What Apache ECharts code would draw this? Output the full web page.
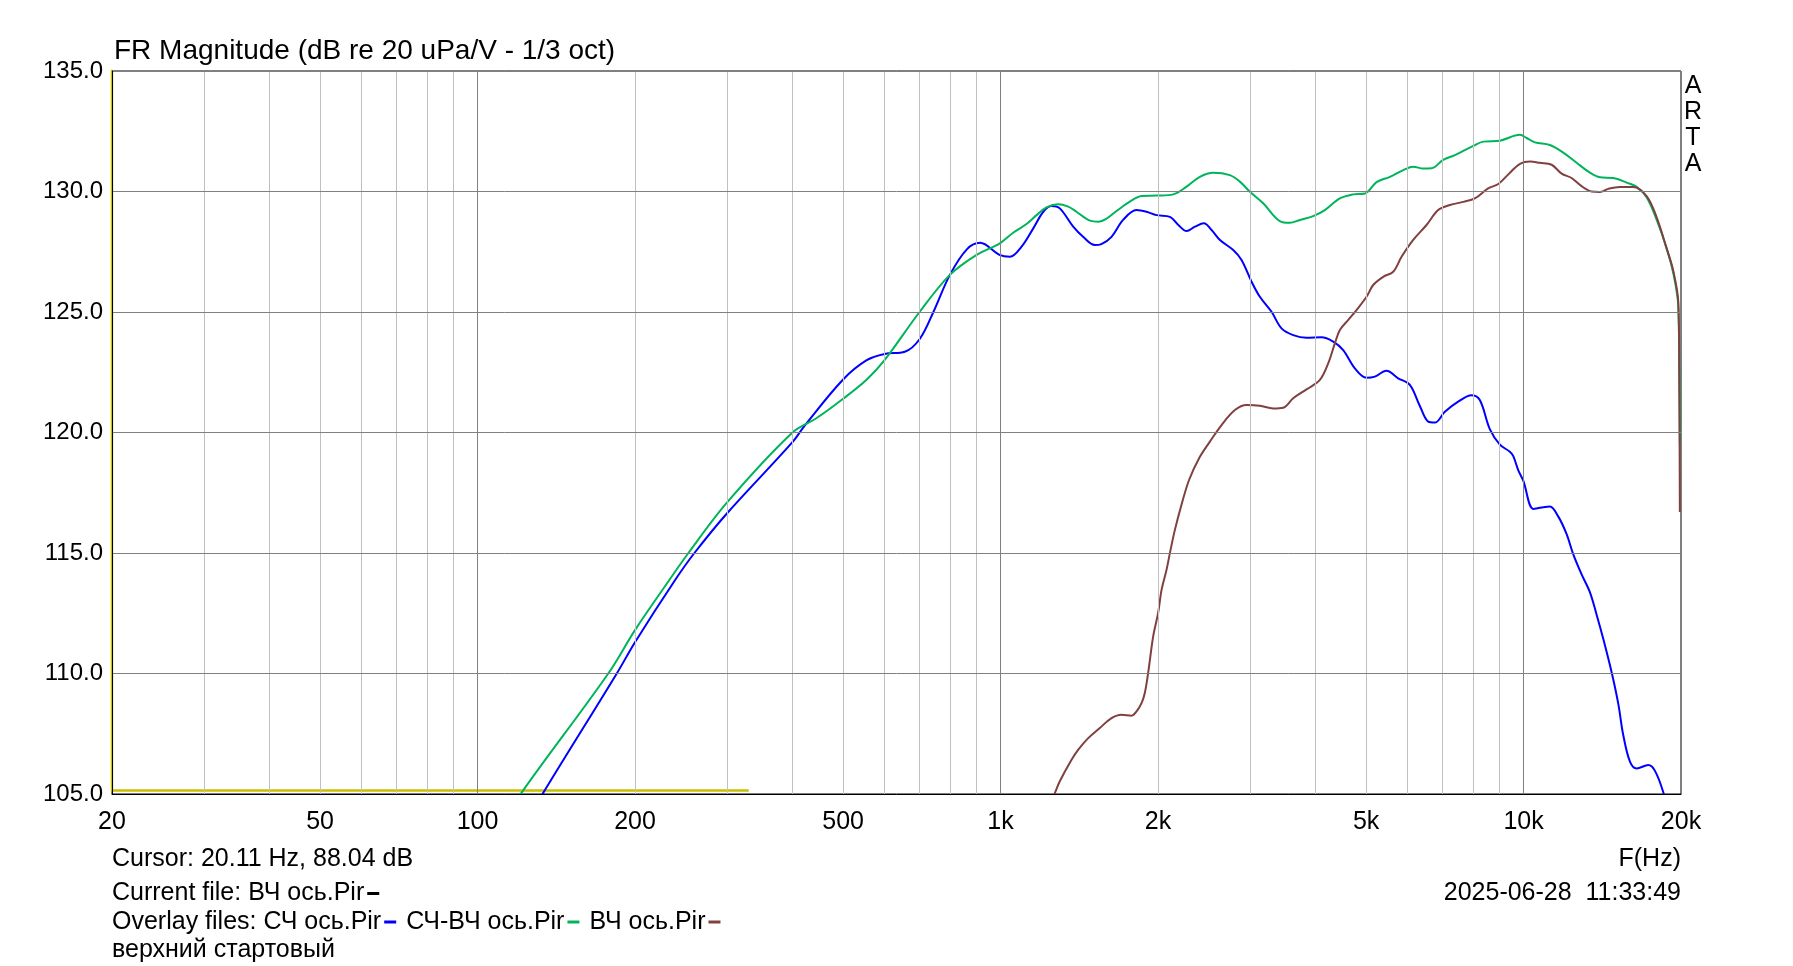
<!DOCTYPE html>
<html>
<head>
<meta charset="utf-8">
<script src="https://cdn.jsdelivr.net/npm/echarts@6/dist/echarts.min.js"></script>
<style>
html,body{margin:0;padding:0;background:#fff;}
#chart{width:1793px;height:966px;}
</style>
</head>
<body>
<div id="chart"></div>
<script>
// ---- data (frequency Hz, level dB) ----
const xTickLabels = [20, 50, 100, 200, 500, 1000, 2000, 5000, 10000, 20000];
const xGridMinor = [30, 40, 50, 60, 70, 80, 90, 200, 300, 400, 500, 600, 700, 800, 900,
  2000, 3000, 4000, 5000, 6000, 7000, 8000, 9000];
const xGridMajor = [100, 1000, 10000];
const yTicks = [105, 110, 115, 120, 125, 130, 135];

// "верхний стартовый" current file (yellow)
const currentFile = [[20, 136], [20, 105.15], [330, 105.15]];

// СЧ ось.Pir (blue)
const midBlue = [[128,104.3],[134,105.1],[184.6,110],[200,111.3],[239,113.9],[259.8,115],[300,116.65],
  [400,119.6],[422.6,120.3],[500,122.2],[554.7,123.0],[600,123.26],[656,123.35],[700,123.87],[744,125.0],
  [800,126.54],[862,127.6],[914,127.87],[995,127.37],[1042,127.29],[1097,127.71],[1155,128.47],[1207,129.16],
  [1252,129.4],[1298,129.3],[1377,128.54],[1438,128.12],[1514,127.78],[1559,127.82],[1630,128.12],[1715,128.82],
  [1819,129.23],[1901,129.16],[1987,129.02],[2108,128.95],[2187,128.61],[2268,128.36],[2353,128.54],[2448,128.68],
  [2532,128.4],[2627,127.99],[2785,127.57],[2889,127.16],[3019,126.26],[3132,125.63],[3297,125.01],[3445,124.32],
  [3627,124.04],[3846,123.93],[4109,123.95],[4325,123.77],[4520,123.42],[4758,122.66],[5009,122.27],[5196,122.32],
  [5469,122.56],[5758,122.25],[6061,121.98],[6334,121.1],[6571,120.45],[6767,120.41],[7071,120.86],[7499,121.28],
  [7951,121.55],[8248,121.35],[8624,120.13],[9009,119.5],[9414,119.2],[9558,119.02],[9767,118.44],[9987,118.0],
  [10440,116.83],[10828,116.89],[11229,116.93],[11647,116.52],[12088,115.78],[12448,114.94],[12912,114.11],
  [13395,113.37],[13794,112.44],[14206,111.43],[14740,110.04],[15175,108.74],[15512,107.44],[15982,106.33],
  [16454,106.06],[17316,106.2],[17833,105.96],[18500,105.07],[18700,104.5]];

// СЧ-ВЧ ось.Pir (green)
const midHighGreen = [[117,104.4],[121.8,105.1],[177.8,110],[200,111.8],[233,113.9],[253,115],[300,117.1],
  [400,120.0],[445,120.6],[500,121.4],[555,122.2],[600,123.0],[700,125.0],[800,126.54],[900,127.37],[997,127.85],
  [1057,128.29],[1121,128.65],[1172,129.02],[1224,129.34],[1289,129.47],[1347,129.37],[1397,129.16],[1482,128.79],
  [1537,128.75],[1595,128.88],[1666,129.19],[1767,129.58],[1860,129.81],[1987,129.83],[2139,129.88],[2268,130.2],
  [2405,130.61],[2550,130.78],[2744,130.68],[2868,130.41],[2997,129.99],[3178,129.51],[3420,128.77],[3574,128.7],
  [3735,128.82],[3961,128.98],[4169,129.23],[4454,129.71],[4723,129.88],[4974,129.92],[5235,130.39],[5551,130.61],
  [5887,130.89],[6152,131.03],[6428,130.95],[6668,130.96],[7019,131.31],[7391,131.51],[7723,131.72],[8014,131.89],
  [8374,132.07],[9013,132.11],[9843,132.35],[10137,132.22],[10515,132.04],[11229,131.93],[11910,131.61],
  [12633,131.19],[13395,130.78],[13997,130.59],[14844,130.56],[15743,130.37],[16454,130.19],[17189,129.76],
  [17967,128.83],[18780,127.63],[19335,126.61],[19765,125.22],[19850,122.44],[19900,119.5]];

// ВЧ ось.Pir (brown)
const highBrown = [[1240,104.5],[1270,105.04],[1298,105.53],[1367,106.42],[1408,106.84],[1471,107.32],[1548,107.74],
  [1630,108.15],[1703,108.29],[1780,108.25],[1820,108.43],[1861,108.78],[1887,109.19],[1915,110.02],[1958,111.54],
  [2001,112.51],[2032,113.48],[2077,114.31],[2114,115.14],[2155,115.97],[2218,117.0],[2294,118.04],[2405,118.99],
  [2513,119.62],[2646,120.31],[2806,120.93],[2953,121.14],[3132,121.11],[3321,121.0],[3471,121.03],[3627,121.42],
  [3846,121.79],[4079,122.18],[4231,122.87],[4357,123.7],[4454,124.25],[4622,124.67],[4793,125.08],[5009,125.63],
  [5158,126.12],[5390,126.46],[5633,126.67],[5844,127.29],[6152,127.99],[6523,128.61],[6867,129.23],[7230,129.44],
  [7672,129.57],[8068,129.71],[8556,130.13],[8948,130.31],[9418,130.78],[9843,131.15],[10289,131.24],[10747,131.19],
  [11316,131.11],[11827,130.74],[12355,130.56],[12912,130.22],[13492,130.0],[13997,129.98],[14519,130.11],
  [15285,130.19],[16208,130.19],[17189,129.81],[17967,128.93],[18780,127.63],[19335,126.7],[19765,125.4],
  [19850,122.4],[19900,116.7]];

// ---- chart ----
const FONT = '"Liberation Sans", Arial, sans-serif';
const chart = echarts.init(document.getElementById('chart'), null, {renderer: 'canvas'});

function lineSeries(name, data, color, width, z, smooth) {
  return {
    name, type: 'line', data, showSymbol: false, symbol: 'none', clip: true,
    smooth: smooth, z: z || 3,
    lineStyle: {color, width}, silent: true
  };
}

const gridLines = [];
xGridMinor.forEach(v => gridLines.push({xAxis: v, lineStyle: {color: '#c0c0c0', width: 1, type: 'solid'}}));
xGridMajor.forEach(v => gridLines.push({xAxis: v, lineStyle: {color: '#808080', width: 1, type: 'solid'}}));

const dash = c => ({width: 12, height: 3, backgroundColor: c, verticalAlign: 'middle'});
const dashRich = {
  s: {width: 3, height: 3},
  k: dash('#000'), b: dash('#0000ff'), g: dash('#00b45a'), r: dash('#804040')
};

const option = {
  animation: false,
  backgroundColor: '#fff',
  grid: {left: 112, right: 112, top: 71, bottom: 172, show: true, borderColor: '#000', borderWidth: 1, backgroundColor: 'transparent'},
  xAxis: {
    type: 'log', logBase: 10, min: 20, max: 20000, z: 10,
    axisLine: {show: true, lineStyle: {color: '#000', width: 1}},
    axisTick: {show: false},
    splitLine: {show: false},
    minorTick: {show: false},
    axisLabel: {
      customValues: xTickLabels,
      color: '#000', fontFamily: FONT, fontSize: 25, margin: 16,
      showMinLabel: true, showMaxLabel: true,
      formatter: v => (v >= 1000 ? (v / 1000) + 'k' : String(v))
    }
  },
  yAxis: {
    type: 'value', min: 105, max: 135, interval: 5, z: 10,
    axisLine: {show: true, lineStyle: {color: '#000', width: 1}},
    axisTick: {show: false},
    splitLine: {show: true, lineStyle: {color: '#808080', width: 1}},
    axisLabel: {color: '#000', fontFamily: FONT, fontSize: 24, margin: 9, formatter: v => v.toFixed(1)}
  },
  series: [
    {
      type: 'line', data: [], silent: true, z: 1,
      markLine: {silent: true, symbol: ['none', 'none'], animation: false, label: {show: false}, data: gridLines}
    },
    lineSeries('верхний стартовый', currentFile, '#c8c000', 2.5, 2, false),
    lineSeries('СЧ ось.Pir', midBlue, '#0000ff', 2, 3, 0.35),
    lineSeries('СЧ-ВЧ ось.Pir', midHighGreen, '#00b45a', 2, 3, 0.35),
    lineSeries('ВЧ ось.Pir', highBrown, '#804040', 2, 4, 0.35)
  ],
  graphic: [
    {type: 'text', x: 114, y: 51, silent: true,
      style: {text: 'FR Magnitude (dB re 20 uPa/V - 1/3 oct)', font: '28px ' + FONT, fill: '#000', verticalAlign: 'middle'}},
    {type: 'text', x: 1693, y: 73, silent: true,
      style: {text: 'A\nR\nT\nA', font: '25px ' + FONT, fill: '#000', align: 'center', lineHeight: 26}},
    {type: 'text', x: 112, y: 859.5, silent: true,
      style: {text: 'Cursor: 20.11 Hz, 88.04 dB', font: '25px ' + FONT, fill: '#000', verticalAlign: 'middle'}},
    {type: 'text', x: 112, y: 893.5, silent: true,
      style: {text: 'Current file: ВЧ ось.Pir{s|}{k|}{s|}', font: '25px ' + FONT, fill: '#000', verticalAlign: 'middle',
        rich: dashRich}},
    {type: 'text', x: 112, y: 922, silent: true,
      style: {text: 'Overlay files: СЧ ось.Pir{s|}{b|}{s|} СЧ-ВЧ ось.Pir{s|}{g|}{s|} ВЧ ось.Pir{s|}{r|}{s|}', font: '25px ' + FONT, fill: '#000', verticalAlign: 'middle',
        rich: dashRich}},
    {type: 'text', x: 112, y: 950.5, silent: true,
      style: {text: 'верхний стартовый', font: '25px ' + FONT, fill: '#000', verticalAlign: 'middle'}},
    {type: 'text', x: 1681, y: 859.5, silent: true,
      style: {text: 'F(Hz)', font: '25px ' + FONT, fill: '#000', align: 'right', verticalAlign: 'middle'}},
    {type: 'text', x: 1681, y: 893.5, silent: true,
      style: {text: '2025-06-28  11:33:49', font: '25px ' + FONT, fill: '#000', align: 'right', verticalAlign: 'middle'}}
  ]
};
chart.setOption(option);
</script>
</body>
</html>
